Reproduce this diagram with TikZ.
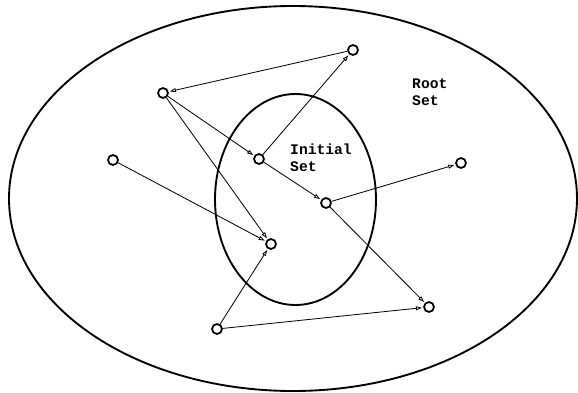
\documentclass[tikz,border=0pt]{standalone}
\usepackage{fontspec}
\setmonofont{Liberation Mono}
\usepackage{tikz}
\usetikzlibrary{arrows.meta}

\begin{document}
\begin{tikzpicture}[
  x=0.03cm, y=-0.03cm,
  vertex/.style={
    draw, circle, fill=white,
    minimum size=0.3cm,
    inner sep=0pt,
    line width=1.5pt},
  region/.style={
    draw, line width=1.6pt},
  setlabel/.style={
    anchor=north west,
    inner sep=0pt, align=left,
    font=\ttfamily\bfseries\fontsize{12.5}{14.5}\selectfont},
  link/.style={
    -{Triangle[open, length=0.18cm, width=0.12cm]},
    line width=0.7pt, shorten >=1pt}
]

\useasboundingbox (0,0) rectangle (578,393);

% the two sets
\draw[region] (293,198.5) ellipse [x radius=284, y radius=192.5];
\draw[region] (295.5,199.5) ellipse [x radius=80.5, y radius=105.5];

\node[setlabel] (rootlbl) at (412,79) {Root\\Set};
\node[setlabel] (initlbl) at (290,144) {Initial\\Set};

% pages
\node[vertex] (a) at (163,93) {};
\node[vertex] (b) at (353,50) {};
\node[vertex] (c) at (259,159) {};
\node[vertex] (d) at (326,203) {};
\node[vertex] (e) at (461,163) {};
\node[vertex] (f) at (113,160) {};
\node[vertex] (g) at (271,244) {};
\node[vertex] (h) at (429,307) {};
\node[vertex] (i) at (217,329) {};

% links
\draw[link] (b) -- (a);
\draw[link] (a) -- (c);
\draw[link] (a) -- (g);
\draw[link] (c) -- (b);
\draw[link] (c) -- (d);
\draw[link] (d) -- (e);
\draw[link] (d) -- (h);
\draw[link] (f) -- (g);
\draw[link] (i) -- (g);
\draw[link] (i) -- (h);

\end{tikzpicture}
\end{document}
